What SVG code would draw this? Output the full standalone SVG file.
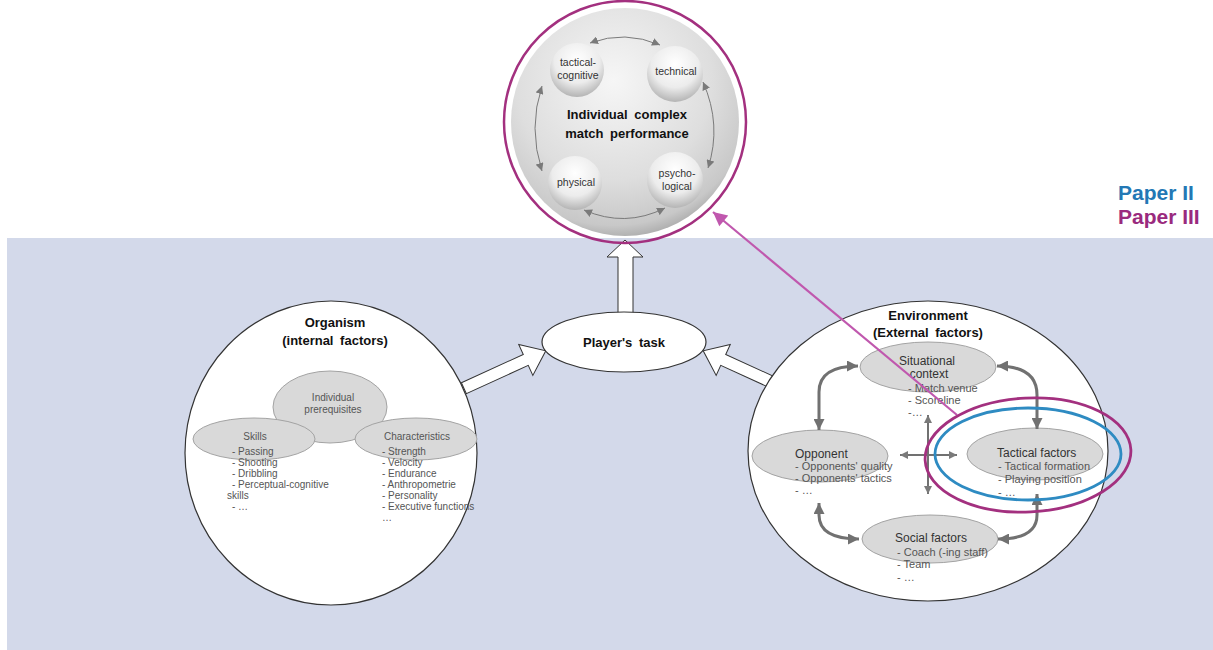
<svg xmlns="http://www.w3.org/2000/svg" width="1213" height="650" viewBox="0 0 1213 650">
  <defs>
    <style>
      .panel { fill: #d3d9ea; }
      .big { fill: #ffffff; stroke: #333333; stroke-width: 1.2; }
      .block { fill: #ffffff; stroke: #333333; stroke-width: 1; stroke-linejoin: miter; }
      .oval { fill: #d9d9d9; stroke: #a3a3a3; stroke-width: 1; }
      .head { font-family: "Liberation Sans", Arial, sans-serif; font-weight: bold; font-size: 13px; fill: #111111; text-anchor: middle; }
      .label { font-family: "Liberation Sans", Arial, sans-serif; font-size: 12px; fill: #333333; }
      .item { font-family: "Liberation Sans", Arial, sans-serif; font-size: 11px; fill: #555555; }
      .small { font-family: "Liberation Sans", Arial, sans-serif; font-size: 10px; fill: #555555; }
      .mid { text-anchor: middle; }
      .sph { font-family: "Liberation Sans", Arial, sans-serif; font-size: 10.5px; fill: #333333; text-anchor: middle; }
      .link { fill: none; stroke: #717171; stroke-width: 3; }
      .cross { fill: none; stroke: #717171; stroke-width: 2; }
      .arc { fill: none; stroke: #7a7a7a; stroke-width: 1; }
    </style>
    <radialGradient id="bigSphere" cx="45%" cy="32%" r="72%">
      <stop offset="0" stop-color="#f6f6f6"/>
      <stop offset="0.6" stop-color="#dedede"/>
      <stop offset="0.88" stop-color="#c8c8c8"/>
      <stop offset="1" stop-color="#a0a0a0"/>
    </radialGradient>
    <radialGradient id="ball" cx="50%" cy="32%" r="70%">
      <stop offset="0" stop-color="#ffffff"/>
      <stop offset="0.6" stop-color="#ececec"/>
      <stop offset="1" stop-color="#b0b0b0"/>
    </radialGradient>
    <marker id="gh" viewBox="0 0 10 10" refX="10" refY="5" markerWidth="11" markerHeight="11" markerUnits="userSpaceOnUse" orient="auto-start-reverse">
      <path d="M0,0 L10,5 L0,10 Z" fill="#717171"/>
    </marker>
    <marker id="sh" viewBox="0 0 10 10" refX="10" refY="5" markerWidth="8" markerHeight="8" markerUnits="userSpaceOnUse" orient="auto-start-reverse">
      <path d="M0,0 L10,5 L0,10 Z" fill="#7a7a7a"/>
    </marker>
    <marker id="ph" viewBox="0 0 10 10" refX="10" refY="5" markerWidth="16" markerHeight="14" markerUnits="userSpaceOnUse" orient="auto">
      <path d="M0,0 L10,5 L0,10 Z" fill="#c058ae"/>
    </marker>
  </defs>

  <!-- background band -->
  <rect class="panel" x="7" y="238" width="1206" height="412"/>

  <!-- hollow block arrows into the task and up to performance -->
  <g id="block-arrows">
    <polygon class="block" points="618,320 618,257 607,257 625,240 643,257 633,257 633,320"/>
    <g transform="translate(473,384) rotate(-24.5)">
      <polygon class="block" points="-10,-6 58,-6 58,-17 80,0 58,17 58,6 -10,6"/>
    </g>
    <g transform="translate(776,384) rotate(204.5)">
      <polygon class="block" points="-10,-6 58,-6 58,-17 80,0 58,17 58,6 -10,6"/>
    </g>
  </g>

  <!-- performance sphere -->
  <g id="performance">
    <circle cx="625" cy="122" r="114" fill="url(#bigSphere)"/>
    <text class="head" x="627" y="119" font-size="15" word-spacing="3">Individual complex</text>
    <text class="head" x="627" y="138" font-size="15" word-spacing="3">match performance</text>
  </g>
  <g id="tactical-cognitive">
    <circle cx="577" cy="70" r="27" fill="url(#ball)"/>
    <text class="sph" x="578" y="66">tactical-</text>
    <text class="sph" x="578" y="79">cognitive</text>
  </g>
  <g id="technical">
    <circle cx="675" cy="74" r="28" fill="url(#ball)"/>
    <text class="sph" x="676" y="75">technical</text>
  </g>
  <g id="physical">
    <circle cx="575" cy="183" r="27" fill="url(#ball)"/>
    <text class="sph" x="576" y="186">physical</text>
  </g>
  <g id="psychological">
    <circle cx="675" cy="180" r="28" fill="url(#ball)"/>
    <text class="sph" x="677" y="177">psycho-</text>
    <text class="sph" x="677" y="190">logical</text>
  </g>
  <g id="sphere-links">
    <path class="arc" d="M590,43 Q625,30 660,45" marker-start="url(#sh)" marker-end="url(#sh)"/>
    <path class="arc" d="M542,86 Q528,128 542,171" marker-start="url(#sh)" marker-end="url(#sh)"/>
    <path class="arc" d="M703,82 Q722,125 708,168" marker-start="url(#sh)" marker-end="url(#sh)"/>
    <path class="arc" d="M584,210 Q625,228 665,208" marker-start="url(#sh)" marker-end="url(#sh)"/>
  </g>

  <!-- organism -->
  <g id="organism">
    <ellipse class="big" cx="331" cy="453" rx="146" ry="152"/>
    <text class="head" x="335" y="327">Organism</text>
    <text class="head" x="335" y="345" word-spacing="3">(internal factors)</text>
  </g>
  <g id="individual-prerequisites">
    <ellipse class="oval" cx="330" cy="407" rx="57" ry="36"/>
    <text class="small mid" x="333" y="401">Individual</text>
    <text class="small mid" x="333" y="413">prerequisites</text>
  </g>
  <g id="skills">
    <ellipse class="oval" cx="254" cy="439" rx="61" ry="21"/>
    <text class="small mid" x="255" y="440" font-size="10.5">Skills</text>
    <text class="small" x="232" y="455" font-size="8.5">- Passing</text>
    <text class="small" x="232" y="466" font-size="8.5">- Shooting</text>
    <text class="small" x="232" y="477" font-size="8.5">- Dribbling</text>
    <text class="small" x="232" y="488" font-size="8.5">- Perceptual-cognitive</text>
    <text class="small" x="227" y="499" font-size="8.5">skills</text>
    <text class="small" x="232" y="510" font-size="8.5">- …</text>
  </g>
  <g id="characteristics">
    <ellipse class="oval" cx="416" cy="439" rx="61" ry="21"/>
    <text class="small mid" x="417" y="440" font-size="10.5">Characteristics</text>
    <text class="small" x="382" y="455" font-size="8.5">- Strength</text>
    <text class="small" x="382" y="466" font-size="8.5">- Velocity</text>
    <text class="small" x="382" y="477" font-size="8.5">- Endurance</text>
    <text class="small" x="382" y="488" font-size="8.5">- Anthropometrie</text>
    <text class="small" x="382" y="499" font-size="8.5">- Personality</text>
    <text class="small" x="382" y="510" font-size="8.5">- Executive functions</text>
    <text class="small" x="382" y="521" font-size="8.5">…</text>
  </g>

  <!-- player's task -->
  <g id="players-task">
    <ellipse class="big" cx="624" cy="342" rx="82" ry="30"/>
    <text class="head" x="624" y="347" word-spacing="3">Player's task</text>
  </g>

  <!-- environment -->
  <g id="environment">
    <ellipse class="big" cx="928" cy="451" rx="180" ry="150"/>
    <text class="head" x="928" y="320">Environment</text>
    <text class="head" x="928" y="337" word-spacing="3">(External factors)</text>
  </g>
  <g id="situational-context">
    <ellipse class="oval" cx="928" cy="367" rx="68" ry="25"/>
    <text class="label mid" x="927" y="365">Situational</text>
    <text class="label mid" x="929" y="378">context</text>
    <text class="item" x="908" y="392">- Match venue</text>
    <text class="item" x="908" y="404">- Scoreline</text>
    <text class="item" x="908" y="416">-…</text>
  </g>
  <g id="opponent">
    <ellipse class="oval" cx="820" cy="456" rx="68" ry="26"/>
    <text class="label" x="795" y="458">Opponent</text>
    <text class="item" x="795" y="470">- Opponents' quality</text>
    <text class="item" x="795" y="482">- Opponents' tactics</text>
    <text class="item" x="795" y="494">- …</text>
  </g>
  <g id="tactical-factors">
    <ellipse class="oval" cx="1035" cy="454" rx="68" ry="26"/>
    <text class="label" x="997" y="457">Tactical factors</text>
    <text class="item" x="998" y="470">- Tactical formation</text>
    <text class="item" x="998" y="483">- Playing position</text>
    <text class="item" x="998" y="496">- …</text>
  </g>
  <g id="social-factors">
    <ellipse class="oval" cx="930" cy="539" rx="68" ry="24"/>
    <text class="label" x="895" y="542">Social factors</text>
    <text class="item" x="897" y="556">- Coach (-ing staff)</text>
    <text class="item" x="897" y="568">- Team</text>
    <text class="item" x="897" y="581">- …</text>
  </g>

  <!-- connectors between the environment factors -->
  <g id="connectors">
    <path class="link" d="M819,430 L819,392 Q819,366 858,366" marker-start="url(#gh)" marker-end="url(#gh)"/>
    <path class="link" d="M997,366 Q1037,366 1037,395 L1037,429" marker-start="url(#gh)" marker-end="url(#gh)"/>
    <path class="link" d="M819,503 L819,515 Q819,539 859,539" marker-start="url(#gh)" marker-end="url(#gh)"/>
    <path class="link" d="M1037,494 L1037,515 Q1037,539 998,539" marker-start="url(#gh)" marker-end="url(#gh)"/>
    <path class="cross" d="M900,455 L957,455" marker-start="url(#sh)" marker-end="url(#sh)"/>
    <path class="cross" d="M928,415 L928,494" marker-start="url(#sh)" marker-end="url(#sh)"/>
    <path d="M957,415 L713,212" fill="none" stroke="#c058ae" stroke-width="2.2" marker-end="url(#ph)"/>
  </g>

  <!-- paper highlights -->
  <g id="paper-marks">
    <circle cx="625" cy="122" r="121" fill="none" stroke="#a3307f" stroke-width="2.5"/>
    <ellipse cx="1028" cy="454" rx="93" ry="46" fill="none" stroke="#2e8bc2" stroke-width="2.8"/>
    <ellipse cx="1028" cy="455" rx="103" ry="57" fill="none" stroke="#a3307f" stroke-width="2.8" transform="rotate(-3 1028 455)"/>
  </g>
  <g id="legend">
    <text x="1118" y="200" font-family="Liberation Sans, Arial, sans-serif" font-weight="bold" font-size="21" fill="#2378b5">Paper II</text>
    <text x="1118" y="224" font-family="Liberation Sans, Arial, sans-serif" font-weight="bold" font-size="21" fill="#9a2a7e">Paper III</text>
  </g>
</svg>
